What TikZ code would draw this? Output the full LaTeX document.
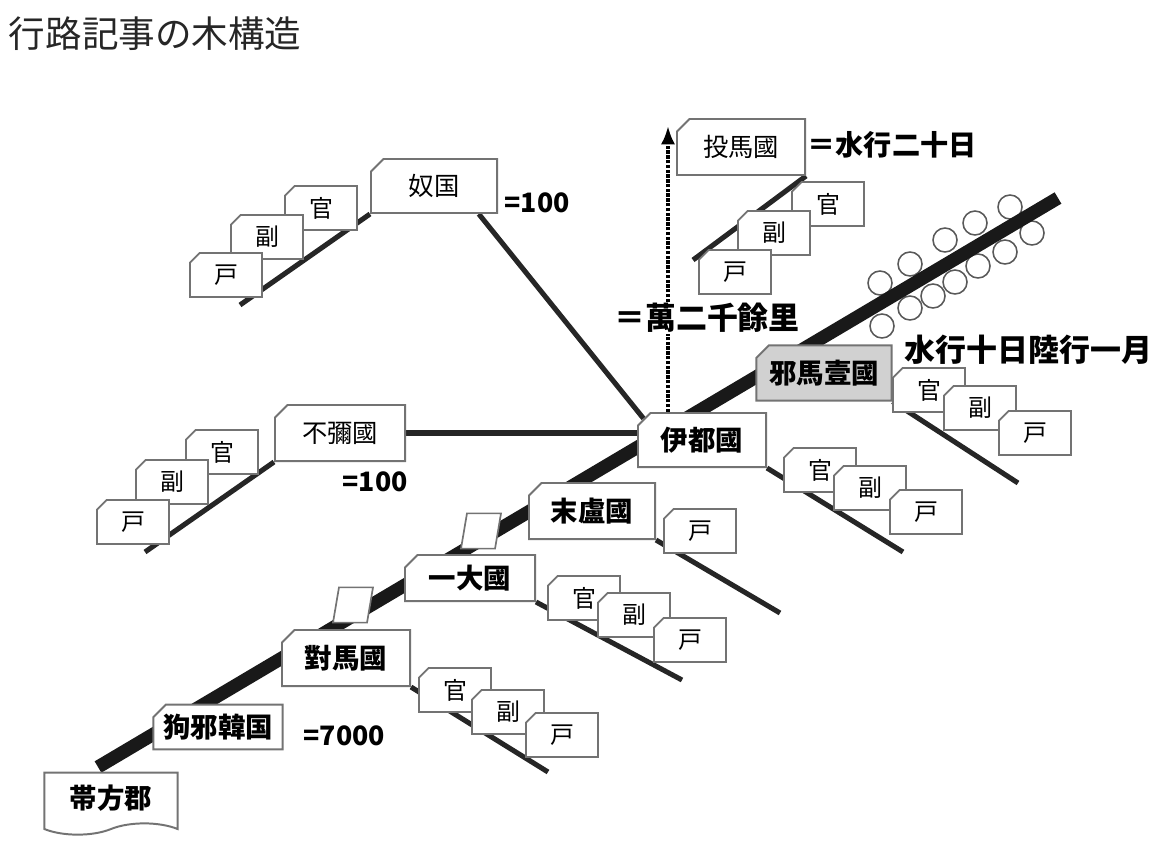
\documentclass[tikz,border=0pt]{standalone}
\usepackage{fontspec}
\newfontfamily\jp{Noto Sans CJK JP}
\usetikzlibrary{shapes.misc,shapes.geometric,shapes.symbols,arrows.meta,backgrounds}

\begin{document}
\begin{tikzpicture}[x=0.025cm,y=-0.025cm,
  land/.style={chamfered rectangle,chamfered rectangle corners=north west,
    chamfered rectangle xsep=6pt,draw=black!55,line width=1.4pt,fill=white,
    inner sep=1pt,font=\jp\bfseries\fontsize{19.5}{19.5}\selectfont},
  thinland/.style={land,font=\jp\fontsize{18}{18}\selectfont},
  card/.style={chamfered rectangle,chamfered rectangle corners=north west,
    chamfered rectangle xsep=4pt,draw=black!55,line width=1.2pt,fill=white,
    minimum width=1.8cm,minimum height=1.1cm,inner sep=1pt,
    font=\jp\fontsize{17}{17}\selectfont},
  blank/.style={trapezium,trapezium left angle=78,trapezium right angle=102,
    trapezium stretches=true,draw=black!55,line width=1.2pt,fill=white,
    minimum width=1cm,minimum height=0.88cm},
  note/.style={font=\jp\bfseries\fontsize{#1}{#1}\selectfont,inner sep=1pt},
  note/.default=19,
  mainline/.style={line width=0.33cm,black!90},
  branch/.style={line width=3.6pt,black!85},
  ring/.style={draw=black!65,line width=1.1pt}]
\useasboundingbox (0,0) rectangle (1162,842);

% title
\node[anchor=west,font=\jp\fontsize{26}{26}\selectfont,text=black!85] (title) at (4,34) {行路記事の木構造};

% the countries along the main line
\node[land,shape=tape,tape bend top=none,tape bend height=8pt,
  minimum width=3.33cm,minimum height=1.55cm] (daifang) at (111,798) {帯方郡};
\node[land,minimum width=3.18cm,minimum height=1.12cm] (kuya) at (218,727) {狗邪韓国};
\node[land,minimum width=3.2cm,minimum height=1.4cm] (tsushima) at (346,658) {對馬國};
\node[blank] (blank1) at (353,605) {};
\node[land,minimum width=3.25cm,minimum height=1.15cm] (ikidai) at (470,578) {一大國};
\node[blank] (blank2) at (481,531) {};
\node[land,minimum width=3.15cm,minimum height=1.4cm] (matsuro) at (592,511) {末盧國};
\node[land,minimum width=3.2cm,minimum height=1.35cm] (ito) at (702,440) {伊都國};
\node[land,fill=black!18,minimum width=3.38cm,minimum height=1.38cm] (yamatai) at (824,373) {邪馬壹國};

% side countries
\node[thinland,minimum width=3.2cm,minimum height=1.4cm] (toma) at (741,147) {投馬國};
\node[thinland,minimum width=3.15cm,minimum height=1.35cm] (nu) at (434,186) {奴国};
\node[thinland,minimum width=3.25cm,minimum height=1.4cm] (fumi) at (340,433) {不彌國};

% distances
\node[note,anchor=west] (nu-len) at (503,203) {=100};
\node[note] (fumi-len) at (375,482) {=100};
\node[note,anchor=west] (kuya-len) at (302,736) {=7000};
\node[note=20,anchor=west] (toma-len) at (806,145) {＝水行二十日};
\node[note=22,fill=white] (ito-len) at (707,318) {＝萬二千餘里};
\node[note=22,anchor=west] (yamatai-len) at (903,350) {水行十日陸行一月};

% 官 副 戸
\foreach \t/\cx/\cy [count=\i] in {官/321/208,副/267/237,戸/226/275}
  \node[card] (nu-\i) at (\cx,\cy) {\t};
\foreach \t/\cx/\cy [count=\i] in {官/828/204,副/774/233,戸/735/272}
  \node[card] (toma-\i) at (\cx,\cy) {\t};
\foreach \t/\cx/\cy [count=\i] in {官/222/452,副/172/482,戸/133/522}
  \node[card] (fumi-\i) at (\cx,\cy) {\t};
\foreach \t/\cx/\cy [count=\i] in {官/929/390,副/980/408,戸/1035/433}
  \node[card] (yamatai-\i) at (\cx,\cy) {\t};
\foreach \t/\cx/\cy [count=\i] in {官/820/470,副/870/488,戸/926/512}
  \node[card] (ito-\i) at (\cx,\cy) {\t};
\node[card] (matsuro-1) at (700,531) {戸};
\foreach \t/\cx/\cy [count=\i] in {官/584/598,副/634/615,戸/690/640}
  \node[card] (ikidai-\i) at (\cx,\cy) {\t};
\foreach \t/\cx/\cy [count=\i] in {官/455/690,副/508/712,戸/562/735}
  \node[card] (tsushima-\i) at (\cx,\cy) {\t};

% free ends
\coordinate (start) at (98,767);
\coordinate (far) at (1058,198);
\coordinate (toma-tip) at (668,126);
\coordinate (nu-end) at (240,305);
\coordinate (toma-end) at (693,260);
\coordinate (fumi-end) at (145,552);
\coordinate (yamatai-end) at (1018,483);
\coordinate (ito-end) at (903,552);
\coordinate (matsuro-end) at (780,613);
\coordinate (ikidai-end) at (682,680);
\coordinate (tsushima-end) at (548,772);

\begin{scope}[on background layer]
\foreach \cx/\cy in {880/283,910/264,945/240,975/223,1010/207,
  882/326,910/308,933/296,955/282,978/266,1005/252,1032/233}
  \draw[ring] (\cx,\cy) circle [radius=12];
\draw[mainline] (start) -- (far);
\draw[branch] (nu.-32) -- (ito.north west);
\draw[branch] (fumi.east) -- (fumi.east -| ito.west);
\draw[branch] (nu.south west) -- (nu-end);
\draw[branch] (toma.south east) -- (toma-end);
\draw[branch] (fumi.south west) -- (fumi-end);
\draw[branch] (yamatai.south east) -- (yamatai-end);
\draw[branch] (ito.south east) -- (ito-end);
\draw[branch] (matsuro.south east) -- (matsuro-end);
\draw[branch] (ikidai.south east) -- (ikidai-end);
\draw[branch] (tsushima.south east) -- (tsushima-end);
\draw[densely dotted,line width=2.4pt,-{Latex[length=13pt,width=10pt]}] (ito.north -| toma-tip) -- (toma-tip);
\end{scope}
\end{tikzpicture}
\end{document}
